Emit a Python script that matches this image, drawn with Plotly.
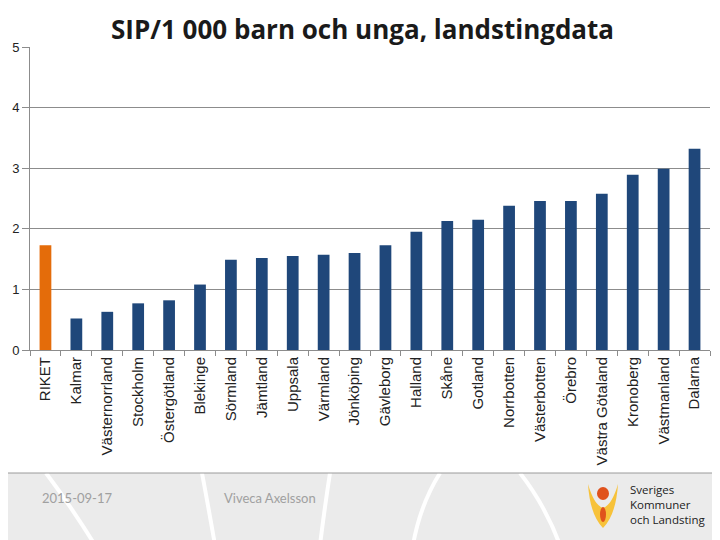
import plotly.graph_objects as go

categories = ["RIKET", "Kalmar", "Västernorrland", "Stockholm", "Östergötland", "Blekinge",
              "Sörmland", "Jämtland", "Uppsala", "Värmland", "Jönköping", "Gävleborg",
              "Halland", "Skåne", "Gotland", "Norrbotten", "Västerbotten", "Örebro",
              "Västra Götaland", "Kronoberg", "Västmanland", "Dalarna"]
values = [1.73, 0.52, 0.63, 0.77, 0.82, 1.08, 1.49, 1.52, 1.55, 1.57, 1.60, 1.73,
          1.95, 2.13, 2.15, 2.38, 2.46, 2.46, 2.58, 2.89, 2.99, 3.32]
y_ticks = [0, 1, 2, 3, 4, 5]

colors = ["#E46C0A" if c == "RIKET" else "#1F477A" for c in categories]

fig = go.Figure(go.Bar(x=categories, y=values, marker=dict(color=colors, line=dict(width=0)),
                       width=0.38))

# page renders with an 8px body offset; plot area on page: x 30..710, y 47..350
OFF = 8
W, H = 720, 540
left, right, top, bottom = 30, 710, 47, 350
ph = bottom - top
pw = right - left
def px(p):
    return (p - left) / pw
def py(p):
    return (bottom - p) / ph

shapes = []
# footer background
shapes.append(dict(type="rect", xref="paper", yref="paper", x0=px(0), x1=px(730),
                   y0=py(473), y1=py(550), fillcolor="#EBEBEB", line=dict(width=0), layer="below"))
# white arcs in footer
for (xa, xb, xc) in [(46, 70, 95), (202, 208, 215), (330, 325, 320), (440, 420, 413), (520, 545, 560)]:
    shapes.append(dict(type="path", xref="paper", yref="paper",
                       path=f"M {px(xa)},{py(473)} Q {px(xb)},{py(505)} {px(xc)},{py(545)}",
                       line=dict(color="white", width=4), layer="below"))
shapes.append(dict(type="line", xref="paper", yref="paper", x0=px(0), x1=px(730),
                   y0=py(473), y1=py(473), line=dict(color="#9A9A9A", width=1)))
# logo approximation
shapes.append(dict(type="path", xref="paper", yref="paper",
                   path=f"M {px(588)},{py(484)} Q {px(590)},{py(515)} {px(603)},{py(528)} "
                        f"Q {px(616)},{py(515)} {px(618)},{py(484)} "
                        f"Q {px(612)},{py(505)} {px(603)},{py(508)} "
                        f"Q {px(594)},{py(505)} {px(588)},{py(484)} Z",
                   fillcolor="#F7C23A", line=dict(width=0)))
shapes.append(dict(type="circle", xref="paper", yref="paper",
                   x0=px(597), x1=px(609), y0=py(500), y1=py(487),
                   fillcolor="#E0521C", line=dict(width=0)))
shapes.append(dict(type="circle", xref="paper", yref="paper",
                   x0=px(600), x1=px(606), y0=py(522), y1=py(507),
                   fillcolor="#E0521C", line=dict(width=0)))

annotations = [
    dict(text="<b>SIP/1 000 barn och unga, landstingdata</b>", xref="paper", yref="paper",
         x=px(362), y=py(OFF + 1), xanchor="center", yanchor="top", showarrow=False,
         font=dict(family="Open Sans", size=26, color="#1A1A1A")),
    dict(text="2015-09-17", xref="paper", yref="paper", x=px(40), y=py(498),
         xanchor="left", yanchor="middle", showarrow=False,
         font=dict(family="Lato", size=13, color="#A0A0A0")),
    dict(text="Viveca Axelsson", xref="paper", yref="paper", x=px(222), y=py(498),
         xanchor="left", yanchor="middle", showarrow=False,
         font=dict(family="Lato", size=13, color="#A0A0A0")),
    dict(text="Sveriges<br>Kommuner<br>och Landsting", xref="paper", yref="paper",
         x=px(628), y=py(505), xanchor="left", yanchor="middle", showarrow=False, align="left",
         font=dict(family="Open Sans", size=11.5, color="#222222")),
]

fig.update_layout(
    width=W, height=H,
    margin=dict(l=left - OFF, r=W - (right - OFF), t=top - OFF, b=H - (bottom - OFF), autoexpand=False),
    paper_bgcolor="white", plot_bgcolor="white",
    showlegend=False,
    shapes=shapes, annotations=annotations,
    font=dict(family="Liberation Sans", color="#222222"),
)
fig.update_xaxes(type="category", tickangle=-90, tickfont=dict(size=15, family="Liberation Sans"),
                 showline=True, linecolor="#8C8C8C", linewidth=1,
                 ticks="outside", tickson="boundaries", ticklen=5, tickcolor="#8C8C8C",
                 showgrid=False, range=[-0.5, len(categories) - 0.5], automargin=False)
fig.update_yaxes(range=[0, 5], tickvals=y_ticks, ticks="outside", ticklen=7, tickcolor="#8C8C8C",
                 showgrid=True, gridcolor="#8C8C8C", gridwidth=1,
                 showline=True, linecolor="#8C8C8C", linewidth=1, zeroline=False,
                 tickfont=dict(size=13, family="Liberation Sans"), ticklabelstandoff=0,
                 automargin=False)

fig.write_html("out.html")
